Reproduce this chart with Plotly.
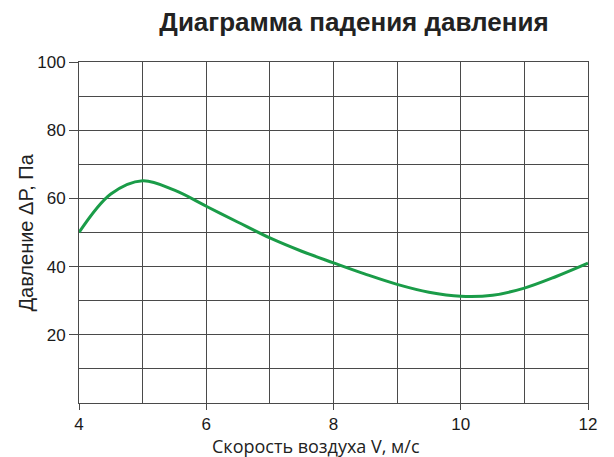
import plotly.graph_objects as go

# Air velocity, m/s
velocity = [4, 4.5, 5, 5.5, 6, 6.5, 7, 7.5, 8, 8.5, 9, 9.5, 10, 10.5, 11, 11.5, 12]
# Pressure drop, Pa
pressure = [50.0, 61.3, 65.2, 62.4, 57.7, 53.0, 48.4, 44.5, 41.1, 37.8, 34.8,
            32.5, 31.3, 31.6, 33.7, 37.1, 41.0]

x_ticks = [4, 6, 8, 10, 12]
y_ticks = [20, 40, 60, 80, 100]

grid_color = "#4a4a4a"
text_color = "#222222"
W, H = 614, 457

fig = go.Figure()
fig.add_trace(go.Scatter(
    x=velocity, y=pressure, mode="lines",
    line=dict(color="#1a9c48", width=3, shape="spline", smoothing=1.0),
    hoverinfo="skip", showlegend=False,
))

axis_common = dict(
    showgrid=True, gridcolor=grid_color, gridwidth=1,
    showline=True, linecolor=grid_color, linewidth=1, mirror=True,
    ticks="outside", tickcolor=grid_color,
    tickfont=dict(family="Liberation Sans", size=17, color="#1a1a1a"),
    zeroline=False, fixedrange=True,
)

fig.update_layout(
    width=W, height=H,
    margin=dict(l=79, r=26, t=62, b=54),
    paper_bgcolor="white", plot_bgcolor="white",
    title=dict(
        text="<b>Диаграмма падения давления</b>",
        x=354 / W, xanchor="center", y=1 - 22 / H, yanchor="middle",
        font=dict(family="Liberation Sans", size=26, color=text_color),
    ),
    xaxis=dict(
        range=[4, 12], tickvals=x_ticks, ticktext=[str(v) for v in x_ticks],
        minor=dict(dtick=1, tick0=4, showgrid=True, gridcolor=grid_color, gridwidth=1),
        ticklen=6, **axis_common,
    ),
    yaxis=dict(
        range=[0, 100], tickvals=y_ticks, ticktext=[str(v) for v in y_ticks],
        minor=dict(dtick=10, tick0=0, showgrid=True, gridcolor=grid_color, gridwidth=1),
        ticklen=9, **axis_common,
    ),
    annotations=[
        dict(text="Скорость воздуха V, м/с", xref="paper", yref="paper",
             x=(316 - 79) / (W - 79 - 26), y=-(446 - 403) / (403 - 62),
             xanchor="center", yanchor="middle", showarrow=False,
             font=dict(family="Open Sans", size=18, color=text_color)),
        dict(text="Давление ΔP, Па", xref="paper", yref="paper",
             x=-(79 - 25) / (W - 79 - 26), y=0.5, textangle=-90,
             xanchor="center", yanchor="middle", showarrow=False,
             font=dict(family="Liberation Sans", size=20, color=text_color)),
    ],
)

fig.write_html("out.html", config={"displayModeBar": False})
